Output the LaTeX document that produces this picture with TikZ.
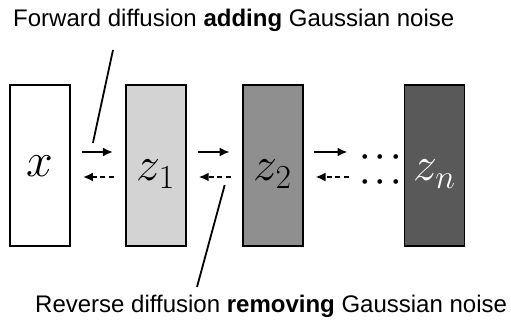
\RequirePackage{fix-cm}
\documentclass[tikz,border=0pt]{standalone}
\usepackage{fontspec}
\setmainfont{Liberation Sans}
\usepackage{xcolor}
\usetikzlibrary{positioning,arrows.meta,calc}
\definecolor{noiselow}{HTML}{D3D3D3}
\definecolor{noisemid}{HTML}{8F8F8F}
\definecolor{noisehigh}{HTML}{595959}
\tikzset{
  fwd/.style={-{Latex[length=10pt,width=9pt]}, line width=2pt, draw=black},
  bwd/.style={fwd, dash pattern=on 5pt off 3.5pt},
  pointer/.style={line width=1.8pt, draw=black}
}

\begin{document}
\begin{tikzpicture}[
  x=1pt, y=1pt,
  latent/.style={draw=black, line width=1.8pt, minimum width=60pt, minimum height=161pt, inner sep=0pt, font=\fontsize{48}{50}\selectfont, text height=31pt, text depth=0pt},
  caption/.style={anchor=base west, inner sep=0pt, font=\fontsize{24}{28}\selectfont},
  dotsty/.style={inner sep=0pt, align=center, font=\fontsize{30}{25}\selectfont\boldmath}
]
\useasboundingbox (0,0) rectangle (511,321);
\node[latent, fill=white, text height=23pt] (x) at (40,155.5) {$x$};
\node[latent, fill=noiselow, right=54pt of x] (z1) {$z_1$};
\node[latent, fill=noisemid, right=55pt of z1] (z2) {$z_2$};
\node[latent, fill=noisehigh, text=white, right=100pt of z2] (zn) {$z_n$};
\node[dotsty] (dots) at ($(zn.west)+(-23,-4)$) {$\cdots$\\$\cdots$};
\node[caption] (fwdtext) at (13,294) {Forward diffusion \textbf{adding} Gaussian noise};
\node[caption] (revtext) at (35,8) {Reverse diffusion \textbf{removing} Gaussian noise};
% forward and reverse steps
\foreach \a/\b in {x/z1, z1/z2} {
  \draw[fwd] ($(\a.east)+(11,13.5)$) -- ($(\b.west)+(-12,13.5)$);
  \draw[bwd] ($(\b.west)+(-11,-11.5)$) -- ($(\a.east)+(12,-11.5)$);
}
\draw[fwd] ($(z2.east)+(10,13.5)$) -- ($(z2.east)+(44,13.5)$);
\draw[bwd] ($(z2.east)+(45,-11.5)$) -- ($(z2.east)+(12,-11.5)$);
% callouts
\coordinate (fwdtop) at (113,271);
\coordinate (fwdpin) at ($(x.east)+(22,22.5)$);
\coordinate (revpin) at ($(z1.east)+(38,-19.5)$);
\coordinate (revbot) at (197,34);
\draw[pointer] (fwdtop) -- (fwdpin);
\draw[pointer] (revpin) -- (revbot);
\end{tikzpicture}
\end{document}
